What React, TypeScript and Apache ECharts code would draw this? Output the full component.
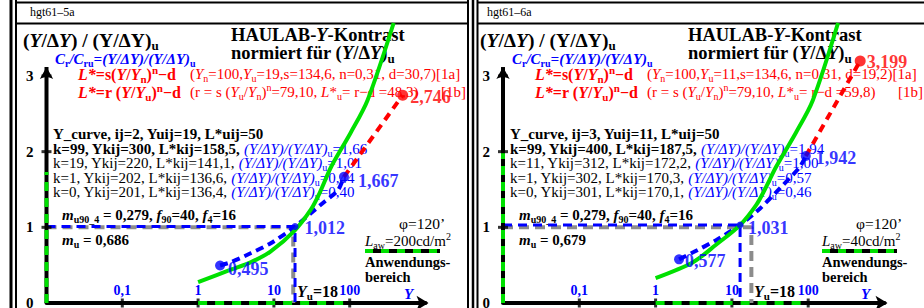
import React, { useEffect, useRef } from 'react';
import * as echarts from 'echarts';

const SERIF = '"Liberation Serif", "Times New Roman", Times, serif';
const BLACK = '#000000';
const BLUE = '#0000ff';
const RED = '#ff0000';
const GREEN = '#00e000';
const GREY = '#8c8c8c';

// ---- axes ----
const xTickValues = [0.1, 1, 10, 100];
const xTickLabels = ['0,1', '1', '10', '100'];
const yTickValues = [1, 2, 3];

// ---- panel A (left, hgt61-5a) ----
const greenCurveA = [[1, 0.277], [2.7, 0.44], [5, 0.54], [9, 0.68], [18.5, 0.95], [31, 1.24], [40, 1.45], [57, 1.8], [103, 2.25], [172, 2.68], [380, 3.7]];
const blueCurveA = [[1.95, 0.495], [2.72, 0.54], [5, 0.66], [9.1, 0.79], [18.5, 1.0], [31, 1.19], [46, 1.335], [70, 1.49], [84, 1.667]];
const redCurveA = [[84, 1.667], [500, 2.746]];
const blueDotsA = [[1.95, 0.495], [19, 1.012], [84, 1.667]];
const blueDotLabelsA = ['0,495', '1,012', '1,667'];
const redDotsA = [[500, 2.746]];
const redDotLabelsA = ['2,746'];
const greyRefA = [[0.01, 1], [18, 1], [18, 0]];
const blueRefA = [[0.01, 1.012], [19, 1.012], [19, 0]];
const rangeXA = [[1, 0], [84, 0]];
const rangeYA = [[0.01, 0], [0.01, 1.73]];
const kRowsA = [
  ['k=99, Ykij=300, L*kij=158,5, ', '1,66'],
  ['k=19, Ykij=220, L*kij=141,1, ', '1,01'],
  ['k=1, Ykij=202, L*kij=136,6, ', '0,44'],
  ['k=0, Ykij=201, L*kij=136,4, ', '0,40'],
];

// ---- panel B (right, hgt61-6a) ----
const greenCurveB = [[1, 0.33], [3.1, 0.54], [6.2, 0.77], [12.8, 1.03], [21, 1.3], [27, 1.5], [38, 1.8], [69, 2.25], [115, 2.68], [246, 3.7]];
const blueCurveB = [[2.03, 0.577], [3.1, 0.67], [6.2, 0.83], [12.8, 1.031], [23.4, 1.25], [43, 1.52], [78, 1.8], [93, 1.942]];
const redCurveB = [[93, 1.942], [480, 3.199]];
const blueDotsB = [[2.03, 0.577], [12.8, 1.031], [93, 1.942]];
const blueDotLabelsB = ['0,577', '1,031', '1,942'];
const redDotsB = [[480, 3.199]];
const redDotLabelsB = ['3,199'];
const greyRefB = [[0.01, 1], [18, 1], [18, 0]];
const blueRefB = [[0.01, 1.031], [12.8, 1.031], [12.8, 0]];
const rangeXB = [[1, 0], [80, 0]];
const rangeYB = [[0.01, 0], [0.01, 1.98]];
const kRowsB = [
  ['k=99, Ykij=400, L*kij=187,5, ', '1,94'],
  ['k=11, Ykij=312, L*kij=172,2, ', '1,00'],
  ['k=1, Ykij=302, L*kij=170,3, ', '0,57'],
  ['k=0, Ykij=301, L*kij=170,1, ', '0,46'],
];

const PANELS = [
  {
    dx: 0, gridLeft: 46.5, gridWidth: 379, hgt: 'hgt61–5a',
    green: greenCurveA, blue: blueCurveA, red: redCurveA,
    blueDots: blueDotsA, blueLabels: blueDotLabelsA, redDots: redDotsA, redLabels: redDotLabelsA,
    greyRef: greyRefA, blueRef: blueRefA, rangeX: rangeXA, rangeY: rangeYA,
    ij: '2', yuij: '19', d: '30,7', lu: '48,3', kRows: kRowsA, mu: '0,686', law: '200',
    blueDist: [3, 6, 9], blueOff: [3, 2, 4], redDist: [2], redOff: [2],
  },
  {
    dx: 457, gridLeft: 503, gridWidth: 381.5, hgt: 'hgt61–6a',
    green: greenCurveB, blue: blueCurveB, red: redCurveB,
    blueDots: blueDotsB, blueLabels: blueDotLabelsB, redDots: redDotsB, redLabels: redDotLabelsB,
    greyRef: greyRefB, blueRef: blueRefB, rangeX: rangeXB, rangeY: rangeYB,
    ij: '3', yuij: '11', d: '19,2', lu: '59,8', kRows: kRowsB, mu: '0,679', law: '40',
    blueDist: [1, 4.5, 5], blueOff: [2, 3, 2], redDist: [1], redOff: [1],
  },
];

type Tok = [string, string];

function rt(x: number, y: number, size: number, color: string, toks: Tok[], align = 'left') {
  const rich: Record<string, any> = {};
  let text = '';
  const L = Math.round(size * 1.25);
  toks.forEach(([t, f], i) => {
    const key = 't' + i;
    const small = f.includes('_') || f.includes('^');
    const fs = small ? Math.round(size * 0.68) : size;
    const c = f.includes('B') ? BLUE : f.includes('R') ? RED : f.includes('K') ? BLACK : color;
    rich[key] = {
      fontFamily: SERIF,
      fontSize: fs,
      fontWeight: f.includes('b') ? 'bold' : 'normal',
      fontStyle: f.includes('i') ? 'italic' : 'normal',
      fill: c,
      lineHeight: small ? fs : L,
      verticalAlign: f.includes('_') ? 'bottom' : f.includes('^') ? 'top' : 'middle',
    };
    text += '{' + key + '|' + t + '}';
  });
  return {
    type: 'text', x, y, silent: true, z: 1,
    style: { text, rich, fontFamily: SERIF, fontSize: size, fill: color, align, verticalAlign: 'middle' },
  };
}

function hline(x1: number, y1: number, x2: number, y2: number, w: number, color = BLACK, dash?: number[]) {
  return {
    type: 'line', silent: true, z: 1,
    shape: { x1, y1, x2, y2 },
    style: { stroke: color, lineWidth: w, lineDash: dash },
  };
}

function buildOption() {
  const grids: any[] = [];
  const xAxes: any[] = [];
  const yAxes: any[] = [];
  const series: any[] = [];
  const graphics: any[] = [];

  // frames
  graphics.push(hline(11, 0, 11, 308, 3));
  graphics.push(hline(16, 0, 16, 308, 2));
  graphics.push(hline(16, 2.5, 468, 2.5, 2));
  graphics.push(hline(16, 23.5, 468, 23.5, 2));
  graphics.push(hline(468, 0, 468, 308, 2));
  graphics.push(hline(473, 0, 473, 308, 2.5));
  graphics.push(hline(477.5, 0, 477.5, 308, 2));
  graphics.push(hline(477.5, 2.5, 924, 2.5, 2));
  graphics.push(hline(477.5, 23.5, 924, 23.5, 2));

  PANELS.forEach((p, i) => {
    const dx = p.dx;
    grids.push({ left: p.gridLeft, top: 23, width: p.gridWidth, height: 280, outerBoundsMode: 'none', containLabel: false });
    xAxes.push({
      type: 'log', gridIndex: i, min: 0.01, max: 1000, logBase: 10,
      axisLine: { show: true, onZero: false, lineStyle: { color: BLACK, width: 4 }, symbol: ['none', 'arrow'], symbolSize: [11, 12], symbolOffset: [0, 3] },
      axisTick: { show: false }, splitLine: { show: false }, minorTick: { show: false },
      axisLabel: {
        show: true, inside: true, margin: 6, color: BLUE, fontFamily: SERIF, fontSize: 14, fontWeight: 'bold',
        formatter: (v: number) => {
          const e = Math.round(Math.log10(v));
          const idx = xTickValues.findIndex((t) => Math.round(Math.log10(t)) === e);
          return idx >= 0 ? xTickLabels[idx] : '';
        },
      },
    });
    yAxes.push({
      type: 'value', gridIndex: i, min: 0, max: 3.7, interval: 1,
      axisLine: { show: false }, axisTick: { show: false }, splitLine: { show: false },
      axisLabel: {
        margin: 13, color: BLACK, fontFamily: SERIF, fontSize: 15, fontWeight: 'bold',
        formatter: (v: number) => (Math.abs(v - Math.round(v)) < 1e-6 ? String(Math.round(v)) : ''),
      },
    });
    const base = { xAxisIndex: i, yAxisIndex: i, silent: true, animation: false };
    // reference lines
    series.push({ ...base, type: 'line', data: p.greyRef, symbol: 'none', clip: false, z: 2, lineStyle: { color: GREY, width: 4, type: [10, 6] } });
    series.push({ ...base, type: 'line', data: p.blueRef, symbol: 'none', clip: false, z: 3, lineStyle: { color: BLUE, width: 3, type: [9, 6] } });
    // y axis line with arrow
    series.push({
      ...base, type: 'line', clip: false, z: 3, symbol: 'none',
      data: [[0.01, 0], { value: [0.01, 3.118], symbol: 'arrow', symbolSize: [10, 12] }],
      lineStyle: { color: BLACK, width: 4 }, itemStyle: { color: BLACK },
    });
    // axis ticks
    series.push({ ...base, type: 'scatter', clip: false, z: 3, symbol: 'rect', symbolSize: [3, 9], itemStyle: { color: BLACK }, data: xTickValues.map((v) => [v, 0]) });
    series.push({ ...base, type: 'scatter', clip: false, z: 3, symbol: 'rect', symbolSize: [10, 3], itemStyle: { color: BLACK }, data: yTickValues.map((v) => [0.01, v]) });
    // application range on axes
    series.push({ ...base, type: 'line', data: p.rangeX, symbol: 'none', clip: false, z: 4, lineStyle: { color: GREEN, width: 4, type: [9, 8] } });
    series.push({ ...base, type: 'line', data: p.rangeY, symbol: 'none', clip: false, z: 4, lineStyle: { color: GREEN, width: 4, type: [9, 7] } });
    // curves
    series.push({ ...base, type: 'line', data: p.blue, symbol: 'none', smooth: 0.25, clip: true, z: 4, lineStyle: { color: BLUE, width: 4, type: [8, 5] } });
    series.push({ ...base, type: 'line', data: p.green, symbol: 'none', smooth: 0.3, clip: true, z: 5, lineStyle: { color: GREEN, width: 4 } });
    series.push({ ...base, type: 'line', data: p.red, symbol: 'none', clip: false, z: 5, lineStyle: { color: RED, width: 4, type: [8, 6] } });
    // dots with labels
    series.push({
      ...base, type: 'scatter', clip: false, z: 6, symbol: 'circle', itemStyle: { color: BLUE },
      label: { show: true, position: 'right', formatter: '{b}', color: BLUE, fontFamily: SERIF, fontSize: 18, fontWeight: 'bold' },
      data: p.blueDots.map((pt, k) => ({
        value: pt, name: p.blueLabels[k], symbolSize: k === 1 ? 7 : 10,
        label: { distance: p.blueDist[k], offset: [0, p.blueOff[k]] },
      })),
    });
    series.push({
      ...base, type: 'scatter', clip: false, z: 6, symbol: 'circle', itemStyle: { color: RED },
      label: { show: true, position: 'right', formatter: '{b}', color: RED, fontFamily: SERIF, fontSize: 18, fontWeight: 'bold' },
      data: p.redDots.map((pt, k) => ({
        value: pt, name: p.redLabels[k], symbolSize: 11,
        label: { distance: p.redDist[k], offset: [0, p.redOff[k]] },
      })),
    });

    // texts
    graphics.push(rt(30 + dx, 12, 12, BLACK, [[p.hgt, 'n']]));
    graphics.push(rt(23 + dx, 40, 19.5, BLACK, [['(', 'b'], ['Y', 'bi'], ['/Δ', 'b'], ['Y', 'bi'], [') / (Y/ΔY)', 'b'], ['u', 'b_']]));
    graphics.push(rt(55 + dx, 59, 15, BLUE, [['C', 'bi'], ['r', 'b_'], ['/C', 'bi'], ['ru', 'b_'], ['=(Y/ΔY)/(Y/ΔY)', 'bi'], ['u', 'b_']]));
    graphics.push(rt(78 + dx, 74, 16, RED, [['L*', 'bi'], ['=s', 'b'], ['(', 'b'], ['Y', 'bi'], ['/', 'b'], ['Y', 'bi'], ['n', 'b_'], [')', 'b'], ['n', 'b^'], ['−d', 'b']]));
    graphics.push(rt(190 + dx, 74, 15, RED, [['(', 'n'], ['Y', 'i'], ['n', '_'], ['=100,', 'n'], ['Y', 'i'], ['u', '_'], ['=' + p.yuij + ',s=134,6, n=0,31, d=' + p.d + ')[1a]', 'n']]));
    graphics.push(rt(78 + dx, 92, 16, RED, [['L*', 'bi'], ['=r (', 'b'], ['Y', 'bi'], ['/', 'b'], ['Y', 'bi'], ['u', 'b_'], [')', 'b'], ['n', 'b^'], ['−d', 'b']]));
    graphics.push(rt(190 + dx, 92, 15, RED, [['(r = s (', 'n'], ['Y', 'i'], ['u', '_'], ['/', 'n'], ['Y', 'i'], ['n', '_'], [')', 'n'], ['n', '^'], ['=79,10, ', 'n'], ['L', 'i'], ['*', 'n'], ['u', '_'], ['= r−d =' + p.lu + ')', 'n']]));
    graphics.push(rt(466 + dx, 92, 15, RED, [['[1b]', 'n']], 'right'));
    graphics.push(rt(231 + dx, 35, 18.5, BLACK, [['HAULAB-', 'b'], ['Y', 'bi'], ['-Kontrast', 'b']]));
    graphics.push(rt(231 + dx, 53, 18.5, BLACK, [['normiert für (', 'b'], ['Y', 'bi'], ['/Δ', 'b'], ['Y', 'bi'], [')', 'b'], ['u', 'b_']]));
    graphics.push(rt(53 + dx, 133.5, 15, BLACK, [['Y_curve, ij=' + p.ij + ', Yuij=' + p.yuij + ', L*uij=50', 'b']]));
    const rowY = [148.5, 163, 177.5, 192];
    p.kRows.forEach((r, k) => {
      graphics.push(rt(53 + dx, rowY[k], 15, BLACK, [[r[0], k === 0 ? 'b' : 'n'], ['(Y/ΔY)/(Y/ΔY)', 'iB'], ['u', '_B'], ['=' + r[1], 'B']]));
    });
    graphics.push(rt(62 + dx, 215, 15, BLACK, [['m', 'bi'], ['u90_4', 'b_'], [' = 0,279, ', 'b'], ['f', 'bi'], ['90', 'b_'], ['=40, ', 'b'], ['f', 'bi'], ['4', 'b_'], ['=16', 'b']]));
    graphics.push(rt(62 + dx, 240, 15, BLACK, [['m', 'bi'], ['u', 'b_'], [' = ' + p.mu, 'b']]));
    graphics.push(rt(399 + dx, 223, 15.5, BLACK, [['φ=120’', 'n']]));
    graphics.push(rt(365 + dx, 241, 15, BLACK, [['L', 'i'], ['aw', '_'], ['=' + p.law + 'cd/m', 'n'], ['2', '^']]));
    graphics.push(hline(365 + dx, 251, 440 + dx, 251, 4, BLACK));
    graphics.push(hline(365 + dx, 251, 440 + dx, 251, 4, GREEN, [8, 8]));
    graphics.push(rt(365 + dx, 262, 14.5, BLACK, [['Anwendungs-', 'b']]));
    graphics.push(rt(365 + dx, 277, 14.5, BLACK, [['bereich', 'b']]));
    graphics.push(rt(297 + dx, 291, 16, BLACK, [['Y', 'bi'], ['u', 'b_'], ['=18', 'b']]));
    graphics.push(rt(404 + dx, 294, 15, BLUE, [['Y', 'bi']]));
  });

  return {
    animation: false,
    backgroundColor: '#ffffff',
    grid: grids,
    xAxis: xAxes,
    yAxis: yAxes,
    series,
    graphic: { elements: graphics },
  };
}

export default function App() {
  const ref = useRef<HTMLDivElement>(null);
  useEffect(() => {
    if (!ref.current) return;
    const chart = echarts.init(ref.current, undefined, { renderer: 'svg' });
    chart.setOption(buildOption() as any);
    return () => chart.dispose();
  }, []);
  return (
    <div
      ref={ref}
      style={{ position: 'absolute', left: 0, top: 0, width: 924, height: 308, background: '#fff' }}
    />
  );
}
